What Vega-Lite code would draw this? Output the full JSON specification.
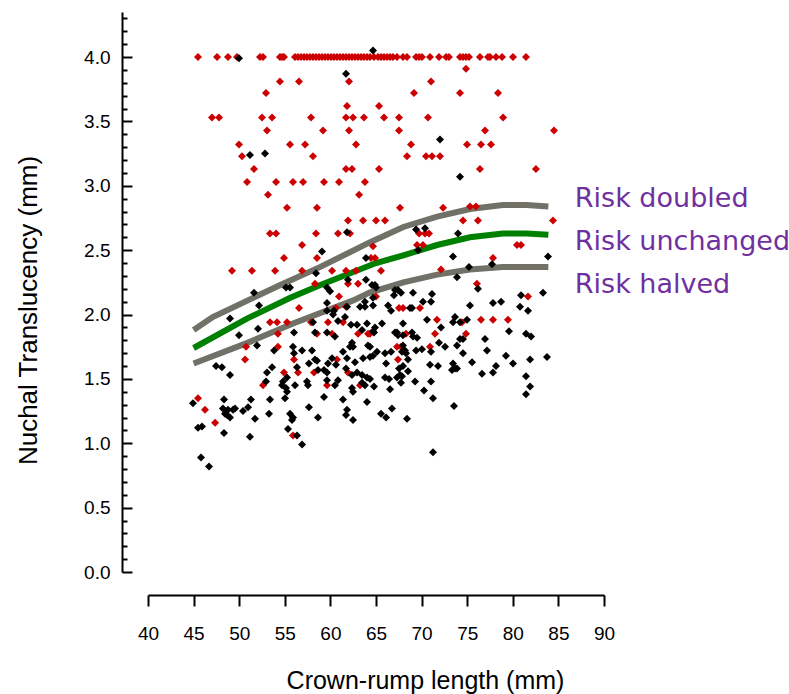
{
"$schema": "https://vega.github.io/schema/vega-lite/v6.json",
"width": 456, "height": 560,
"autosize": "none",
"padding": {"left": 148, "top": 12, "right": 185, "bottom": 122},
"background": "white",
"config": {"view": {"stroke": null},
  "axis": {"labelFont": "Liberation Sans", "titleFont": "Liberation Sans", "labelColor": "black", "titleColor": "black", "domainColor": "black", "tickColor": "black", "grid": false, "titleFontWeight": "normal", "domainWidth": 2, "tickWidth": 2, "labelFontSize": 19, "labelFlush": false}},
"datasets": {
 "curves": [
  {"curve":"doubled","x":45,"y":1.88},{"curve":"doubled","x":47.1,"y":1.98},{"curve":"doubled","x":54.5,"y":2.23},{"curve":"doubled","x":58.9,"y":2.37},{"curve":"doubled","x":64.3,"y":2.56},{"curve":"doubled","x":68,"y":2.68},{"curve":"doubled","x":71.7,"y":2.76},{"curve":"doubled","x":75.3,"y":2.82},{"curve":"doubled","x":78.9,"y":2.85},{"curve":"doubled","x":81.5,"y":2.85},{"curve":"doubled","x":83.9,"y":2.84},
  {"curve":"unchanged","x":45,"y":1.74},{"curve":"unchanged","x":50.9,"y":1.97},{"curve":"unchanged","x":55.6,"y":2.13},{"curve":"unchanged","x":58.9,"y":2.23},{"curve":"unchanged","x":65,"y":2.40},{"curve":"unchanged","x":68,"y":2.46},{"curve":"unchanged","x":71.7,"y":2.54},{"curve":"unchanged","x":75.3,"y":2.60},{"curve":"unchanged","x":78.9,"y":2.63},{"curve":"unchanged","x":81.5,"y":2.63},{"curve":"unchanged","x":83.9,"y":2.62},
  {"curve":"halved","x":45,"y":1.62},{"curve":"halved","x":50.9,"y":1.78},{"curve":"halved","x":55.9,"y":1.93},{"curve":"halved","x":62.5,"y":2.11},{"curve":"halved","x":64.3,"y":2.17},{"curve":"halved","x":68,"y":2.25},{"curve":"halved","x":71.7,"y":2.31},{"curve":"halved","x":75.3,"y":2.35},{"curve":"halved","x":78.9,"y":2.37},{"curve":"halved","x":83.9,"y":2.37}
 ],
 "labels": [
  {"x":86.8,"y":2.835,"label":"Risk doubled"},
  {"x":86.8,"y":2.501,"label":"Risk unchanged"},
  {"x":86.8,"y":2.167,"label":"Risk halved"}
 ],
 "points": [
  {"x":45.48,"y":4.0,"g":"red"},{"x":47.57,"y":4.0,"g":"red"},{"x":48.77,"y":4.0,"g":"red"},{"x":49.76,"y":4.0,"g":"red"},{"x":52.28,"y":4.0,"g":"red"},{"x":52.61,"y":4.0,"g":"red"},{"x":54.47,"y":4.0,"g":"red"},{"x":54.69,"y":4.0,"g":"red"},{"x":54.91,"y":4.0,"g":"red"},{"x":56.12,"y":4.0,"g":"red"},{"x":56.45,"y":4.0,"g":"red"},{"x":56.78,"y":4.0,"g":"red"},{"x":57.11,"y":4.0,"g":"red"},{"x":57.43,"y":4.0,"g":"red"},{"x":57.76,"y":4.0,"g":"red"},{"x":58.09,"y":4.0,"g":"red"},{"x":58.42,"y":4.0,"g":"red"},{"x":58.75,"y":4.0,"g":"red"},{"x":59.08,"y":4.0,"g":"red"},{"x":59.41,"y":4.0,"g":"red"},{"x":59.74,"y":4.0,"g":"red"},{"x":60.07,"y":4.0,"g":"red"},{"x":60.39,"y":4.0,"g":"red"},{"x":60.72,"y":4.0,"g":"red"},{"x":61.05,"y":4.0,"g":"red"},{"x":61.38,"y":4.0,"g":"red"},{"x":61.71,"y":4.0,"g":"red"},{"x":62.04,"y":4.0,"g":"red"},{"x":62.37,"y":4.0,"g":"red"},{"x":62.70,"y":4.0,"g":"red"},{"x":63.03,"y":4.0,"g":"red"},{"x":63.36,"y":4.0,"g":"red"},{"x":63.68,"y":4.0,"g":"red"},{"x":64.01,"y":4.0,"g":"red"},{"x":64.34,"y":4.0,"g":"red"},{"x":64.78,"y":4.0,"g":"red"},{"x":65.22,"y":4.0,"g":"red"},{"x":65.55,"y":4.0,"g":"red"},{"x":65.88,"y":4.0,"g":"red"},{"x":66.21,"y":4.0,"g":"red"},{"x":66.54,"y":4.0,"g":"red"},{"x":66.86,"y":4.0,"g":"red"},{"x":67.30,"y":4.0,"g":"red"},{"x":67.96,"y":4.0,"g":"red"},{"x":68.40,"y":4.0,"g":"red"},{"x":69.39,"y":4.0,"g":"red"},{"x":69.72,"y":4.0,"g":"red"},{"x":70.04,"y":4.0,"g":"red"},{"x":70.92,"y":4.0,"g":"red"},{"x":71.91,"y":4.0,"g":"red"},{"x":72.68,"y":4.0,"g":"red"},{"x":73.00,"y":4.0,"g":"red"},{"x":74.21,"y":4.0,"g":"red"},{"x":74.54,"y":4.0,"g":"red"},{"x":74.87,"y":4.0,"g":"red"},{"x":75.20,"y":4.0,"g":"red"},{"x":76.40,"y":4.0,"g":"red"},{"x":77.28,"y":4.0,"g":"red"},{"x":77.50,"y":4.0,"g":"red"},{"x":78.16,"y":4.0,"g":"red"},{"x":78.82,"y":4.0,"g":"red"},{"x":80.02,"y":4.0,"g":"red"},{"x":81.45,"y":4.0,"g":"red"},
  {"x":62.04,"y":3.81,"g":"red"},{"x":54.47,"y":3.81,"g":"red"},{"x":56.56,"y":3.81,"g":"red"},{"x":52.94,"y":3.72,"g":"red"},{"x":61.82,"y":3.62,"g":"red"},{"x":65.33,"y":3.62,"g":"red"},{"x":47.02,"y":3.53,"g":"red"},{"x":47.79,"y":3.53,"g":"red"},{"x":52.50,"y":3.53,"g":"red"},{"x":53.60,"y":3.53,"g":"red"},{"x":57.87,"y":3.53,"g":"red"},{"x":61.71,"y":3.53,"g":"red"},{"x":62.48,"y":3.53,"g":"red"},{"x":63.68,"y":3.53,"g":"red"},{"x":53.05,"y":3.43,"g":"red"},{"x":59.19,"y":3.43,"g":"red"},{"x":62.04,"y":3.43,"g":"red"},{"x":49.98,"y":3.32,"g":"red"},{"x":55.57,"y":3.32,"g":"red"},{"x":57.22,"y":3.32,"g":"red"},{"x":62.81,"y":3.32,"g":"red"},{"x":50.31,"y":3.23,"g":"red"},{"x":58.09,"y":3.23,"g":"red"},{"x":51.62,"y":3.13,"g":"red"},{"x":61.71,"y":3.13,"g":"red"},{"x":62.37,"y":3.13,"g":"red"},{"x":65.33,"y":3.13,"g":"red"},{"x":50.86,"y":3.03,"g":"red"},{"x":54.04,"y":3.03,"g":"red"},{"x":55.90,"y":3.03,"g":"red"},{"x":57.00,"y":3.03,"g":"red"},{"x":59.30,"y":3.03,"g":"red"},{"x":60.94,"y":3.03,"g":"red"},{"x":63.79,"y":3.03,"g":"red"},
  {"x":74.87,"y":3.91,"g":"red"},{"x":71.03,"y":3.81,"g":"red"},{"x":69.17,"y":3.72,"g":"red"},{"x":74.21,"y":3.72,"g":"red"},{"x":78.38,"y":3.72,"g":"red"},{"x":65.88,"y":3.53,"g":"red"},{"x":67.52,"y":3.53,"g":"red"},{"x":70.70,"y":3.53,"g":"red"},{"x":78.93,"y":3.53,"g":"red"},{"x":67.52,"y":3.43,"g":"red"},{"x":76.95,"y":3.43,"g":"red"},{"x":84.52,"y":3.43,"g":"red"},{"x":68.84,"y":3.32,"g":"red"},{"x":74.98,"y":3.32,"g":"red"},{"x":76.51,"y":3.32,"g":"red"},{"x":77.61,"y":3.32,"g":"red"},{"x":68.40,"y":3.23,"g":"red"},{"x":70.48,"y":3.23,"g":"red"},{"x":71.14,"y":3.23,"g":"red"},{"x":72.02,"y":3.23,"g":"red"},{"x":76.40,"y":3.13,"g":"red"},{"x":82.54,"y":3.13,"g":"red"},
  {"x":67.63,"y":2.83,"g":"red"},{"x":72.35,"y":2.83,"g":"red"},{"x":75.31,"y":2.84,"g":"red"},{"x":75.96,"y":2.84,"g":"red"},{"x":65.00,"y":2.73,"g":"red"},{"x":65.99,"y":2.73,"g":"red"},{"x":74.54,"y":2.73,"g":"red"},{"x":76.18,"y":2.73,"g":"red"},{"x":84.41,"y":2.73,"g":"red"},{"x":69.72,"y":2.63,"g":"red"},{"x":70.37,"y":2.63,"g":"red"},{"x":70.81,"y":2.63,"g":"red"},{"x":69.50,"y":2.54,"g":"red"},{"x":70.15,"y":2.54,"g":"red"},{"x":64.67,"y":2.53,"g":"red"},{"x":80.46,"y":2.54,"g":"red"},{"x":80.90,"y":2.54,"g":"red"},{"x":64.45,"y":2.44,"g":"red"},{"x":64.89,"y":2.44,"g":"red"},{"x":77.83,"y":2.44,"g":"red"},{"x":65.55,"y":2.34,"g":"red"},{"x":72.13,"y":2.35,"g":"red"},{"x":76.07,"y":2.24,"g":"red"},{"x":65.00,"y":2.14,"g":"red"},{"x":81.67,"y":2.14,"g":"red"},{"x":67.52,"y":2.05,"g":"red"},{"x":67.96,"y":2.05,"g":"red"},{"x":69.82,"y":2.05,"g":"red"},{"x":71.69,"y":1.96,"g":"red"},{"x":76.51,"y":1.96,"g":"red"},{"x":77.83,"y":1.96,"g":"red"},{"x":79.47,"y":1.96,"g":"red"},{"x":74.43,"y":1.94,"g":"red"},{"x":64.34,"y":1.85,"g":"red"},{"x":68.29,"y":1.85,"g":"red"},{"x":71.47,"y":1.85,"g":"red"},{"x":74.87,"y":1.85,"g":"red"},{"x":67.30,"y":1.75,"g":"red"},{"x":67.74,"y":1.75,"g":"red"},{"x":70.92,"y":1.75,"g":"red"},{"x":67.41,"y":1.65,"g":"red"},
  {"x":53.16,"y":2.93,"g":"red"},{"x":63.14,"y":2.93,"g":"red"},{"x":55.24,"y":2.83,"g":"red"},{"x":58.53,"y":2.83,"g":"red"},{"x":61.93,"y":2.73,"g":"red"},{"x":63.58,"y":2.73,"g":"red"},{"x":53.38,"y":2.63,"g":"red"},{"x":54.04,"y":2.63,"g":"red"},{"x":58.42,"y":2.63,"g":"red"},{"x":60.83,"y":2.63,"g":"red"},{"x":62.15,"y":2.63,"g":"red"},{"x":56.89,"y":2.54,"g":"red"},{"x":54.91,"y":2.44,"g":"red"},{"x":58.53,"y":2.44,"g":"red"},{"x":49.21,"y":2.34,"g":"red"},{"x":51.40,"y":2.34,"g":"red"},{"x":53.93,"y":2.34,"g":"red"},{"x":56.89,"y":2.34,"g":"red"},{"x":60.18,"y":2.34,"g":"red"},{"x":61.71,"y":2.34,"g":"red"},{"x":62.81,"y":2.34,"g":"red"},{"x":58.31,"y":2.24,"g":"red"},{"x":61.93,"y":2.24,"g":"red"},{"x":63.03,"y":2.24,"g":"red"},{"x":60.94,"y":2.14,"g":"red"},{"x":60.61,"y":2.05,"g":"red"},{"x":61.71,"y":2.06,"g":"red"},{"x":56.56,"y":2.05,"g":"red"},
  {"x":53.38,"y":1.94,"g":"red"},{"x":54.15,"y":1.94,"g":"red"},{"x":55.24,"y":1.94,"g":"red"},{"x":57.87,"y":1.94,"g":"red"},{"x":59.74,"y":1.94,"g":"red"},{"x":61.38,"y":1.94,"g":"red"},{"x":54.25,"y":1.85,"g":"red"},{"x":58.53,"y":1.85,"g":"red"},{"x":60.18,"y":1.85,"g":"red"},{"x":63.03,"y":1.85,"g":"red"},{"x":64.12,"y":1.85,"g":"red"},{"x":50.75,"y":1.75,"g":"red"},{"x":54.25,"y":1.75,"g":"red"},{"x":50.64,"y":1.65,"g":"red"},{"x":56.01,"y":1.65,"g":"red"},{"x":60.72,"y":1.65,"g":"red"},{"x":54.91,"y":1.55,"g":"red"},{"x":56.45,"y":1.55,"g":"red"},{"x":58.20,"y":1.55,"g":"red"},{"x":61.93,"y":1.55,"g":"red"},{"x":52.61,"y":1.45,"g":"red"},{"x":59.63,"y":1.45,"g":"red"},{"x":63.25,"y":1.45,"g":"red"},{"x":45.48,"y":1.35,"g":"red"},{"x":46.25,"y":1.26,"g":"red"},{"x":47.35,"y":1.16,"g":"red"},{"x":55.90,"y":1.06,"g":"red"},
  {"x":49.98,"y":3.99,"g":"black"},{"x":64.67,"y":4.05,"g":"black"},{"x":61.71,"y":3.87,"g":"black"},{"x":51.18,"y":3.24,"g":"black"},{"x":52.83,"y":3.25,"g":"black"},{"x":72.02,"y":3.36,"g":"black"},{"x":74.21,"y":3.07,"g":"black"},
  {"x":69.39,"y":2.66,"g":"black"},{"x":70.37,"y":2.67,"g":"black"},{"x":73.99,"y":2.63,"g":"black"},{"x":69.61,"y":2.50,"g":"black"},{"x":73.44,"y":2.45,"g":"black"},{"x":83.86,"y":2.45,"g":"black"},{"x":75.20,"y":2.37,"g":"black"},{"x":77.72,"y":2.39,"g":"black"},{"x":73.88,"y":2.29,"g":"black"},{"x":64.89,"y":2.23,"g":"black"},{"x":76.18,"y":2.20,"g":"black"},{"x":67.08,"y":2.19,"g":"black"},{"x":67.41,"y":2.19,"g":"black"},{"x":67.74,"y":2.17,"g":"black"},{"x":66.97,"y":2.15,"g":"black"},{"x":69.06,"y":2.17,"g":"black"},{"x":71.14,"y":2.16,"g":"black"},{"x":71.03,"y":2.10,"g":"black"},{"x":70.15,"y":2.10,"g":"black"},{"x":64.67,"y":2.13,"g":"black"},{"x":80.90,"y":2.15,"g":"black"},{"x":83.31,"y":2.17,"g":"black"},{"x":78.71,"y":2.10,"g":"black"},{"x":77.83,"y":2.09,"g":"black"},{"x":75.31,"y":2.07,"g":"black"},{"x":80.79,"y":2.06,"g":"black"},{"x":81.67,"y":2.03,"g":"black"},{"x":66.32,"y":2.07,"g":"black"},{"x":66.65,"y":2.03,"g":"black"},{"x":68.73,"y":2.05,"g":"black"},{"x":68.95,"y":2.05,"g":"black"},{"x":70.59,"y":1.96,"g":"black"},{"x":73.66,"y":1.98,"g":"black"},{"x":74.98,"y":1.96,"g":"black"},
  {"x":65.66,"y":1.93,"g":"black"},{"x":67.96,"y":1.93,"g":"black"},{"x":67.30,"y":1.86,"g":"black"},{"x":67.08,"y":1.86,"g":"black"},{"x":67.41,"y":1.84,"g":"black"},{"x":67.96,"y":1.84,"g":"black"},{"x":64.89,"y":1.90,"g":"black"},{"x":64.67,"y":1.87,"g":"black"},{"x":64.78,"y":1.86,"g":"black"},{"x":68.95,"y":1.86,"g":"black"},{"x":69.06,"y":1.83,"g":"black"},{"x":69.50,"y":1.82,"g":"black"},{"x":72.13,"y":1.90,"g":"black"},{"x":73.44,"y":1.94,"g":"black"},{"x":74.21,"y":1.94,"g":"black"},{"x":79.58,"y":1.87,"g":"black"},{"x":81.45,"y":1.85,"g":"black"},{"x":82.00,"y":1.83,"g":"black"},{"x":71.91,"y":1.78,"g":"black"},{"x":72.57,"y":1.75,"g":"black"},{"x":73.88,"y":1.76,"g":"black"},{"x":74.21,"y":1.81,"g":"black"},{"x":74.54,"y":1.81,"g":"black"},{"x":76.95,"y":1.81,"g":"black"},{"x":77.17,"y":1.72,"g":"black"},{"x":74.54,"y":1.70,"g":"black"},{"x":64.34,"y":1.75,"g":"black"},{"x":65.11,"y":1.71,"g":"black"},{"x":64.67,"y":1.68,"g":"black"},{"x":64.34,"y":1.67,"g":"black"},{"x":65.99,"y":1.70,"g":"black"},{"x":66.65,"y":1.71,"g":"black"},{"x":67.96,"y":1.76,"g":"black"},{"x":68.18,"y":1.72,"g":"black"},{"x":67.85,"y":1.71,"g":"black"},{"x":68.29,"y":1.70,"g":"black"},{"x":69.39,"y":1.72,"g":"black"},{"x":70.04,"y":1.73,"g":"black"},{"x":71.03,"y":1.71,"g":"black"},{"x":68.51,"y":1.65,"g":"black"},{"x":66.10,"y":1.62,"g":"black"},{"x":75.53,"y":1.63,"g":"black"},{"x":79.25,"y":1.68,"g":"black"},{"x":81.89,"y":1.65,"g":"black"},{"x":83.75,"y":1.67,"g":"black"},{"x":80.02,"y":1.62,"g":"black"},{"x":70.92,"y":1.61,"g":"black"},{"x":71.80,"y":1.60,"g":"black"},{"x":67.96,"y":1.60,"g":"black"},{"x":67.52,"y":1.58,"g":"black"},{"x":68.51,"y":1.56,"g":"black"},{"x":67.63,"y":1.53,"g":"black"},{"x":67.30,"y":1.51,"g":"black"},{"x":67.85,"y":1.52,"g":"black"},{"x":73.44,"y":1.62,"g":"black"},{"x":73.66,"y":1.58,"g":"black"},{"x":73.33,"y":1.57,"g":"black"},{"x":73.88,"y":1.58,"g":"black"},{"x":78.16,"y":1.60,"g":"black"},{"x":77.83,"y":1.55,"g":"black"},{"x":76.62,"y":1.54,"g":"black"},{"x":81.45,"y":1.52,"g":"black"},{"x":81.89,"y":1.44,"g":"black"},{"x":81.45,"y":1.38,"g":"black"},{"x":64.34,"y":1.50,"g":"black"},{"x":64.78,"y":1.44,"g":"black"},{"x":65.99,"y":1.51,"g":"black"},{"x":66.43,"y":1.50,"g":"black"},{"x":66.54,"y":1.42,"g":"black"},{"x":67.74,"y":1.47,"g":"black"},{"x":69.28,"y":1.48,"g":"black"},{"x":71.03,"y":1.48,"g":"black"},{"x":70.26,"y":1.41,"g":"black"},{"x":71.25,"y":1.35,"g":"black"},{"x":73.55,"y":1.29,"g":"black"},{"x":66.75,"y":1.27,"g":"black"},{"x":65.55,"y":1.23,"g":"black"},{"x":66.10,"y":1.20,"g":"black"},{"x":68.40,"y":1.19,"g":"black"},{"x":71.25,"y":0.93,"g":"black"},
  {"x":61.82,"y":2.64,"g":"black"},{"x":59.08,"y":2.49,"g":"black"},{"x":63.90,"y":2.44,"g":"black"},{"x":58.42,"y":2.32,"g":"black"},{"x":61.93,"y":2.27,"g":"black"},{"x":63.90,"y":2.27,"g":"black"},{"x":64.56,"y":2.23,"g":"black"},{"x":65.00,"y":2.21,"g":"black"},{"x":55.13,"y":2.21,"g":"black"},{"x":55.57,"y":2.21,"g":"black"},{"x":59.63,"y":2.21,"g":"black"},{"x":59.96,"y":2.18,"g":"black"},{"x":51.62,"y":2.17,"g":"black"},{"x":52.17,"y":2.07,"g":"black"},{"x":59.63,"y":2.09,"g":"black"},{"x":59.63,"y":2.03,"g":"black"},{"x":60.29,"y":2.00,"g":"black"},{"x":61.82,"y":2.06,"g":"black"},{"x":63.25,"y":2.06,"g":"black"},{"x":63.79,"y":2.06,"g":"black"},{"x":63.79,"y":2.10,"g":"black"},{"x":48.99,"y":1.97,"g":"black"},
  {"x":60.39,"y":2.03,"g":"black"},{"x":60.83,"y":1.95,"g":"black"},{"x":61.60,"y":1.98,"g":"black"},{"x":64.67,"y":2.07,"g":"black"},{"x":52.06,"y":1.89,"g":"black"},{"x":58.09,"y":1.94,"g":"black"},{"x":62.26,"y":1.92,"g":"black"},{"x":62.92,"y":1.92,"g":"black"},{"x":63.47,"y":1.88,"g":"black"},{"x":64.01,"y":1.93,"g":"black"},{"x":49.98,"y":1.84,"g":"black"},{"x":56.01,"y":1.86,"g":"black"},{"x":58.31,"y":1.86,"g":"black"},{"x":59.63,"y":1.86,"g":"black"},{"x":60.50,"y":1.83,"g":"black"},{"x":62.37,"y":1.78,"g":"black"},{"x":62.15,"y":1.75,"g":"black"},{"x":62.48,"y":1.75,"g":"black"},{"x":64.12,"y":1.76,"g":"black"},{"x":51.95,"y":1.76,"g":"black"},{"x":53.82,"y":1.72,"g":"black"},{"x":55.90,"y":1.75,"g":"black"},{"x":56.89,"y":1.72,"g":"black"},{"x":56.01,"y":1.70,"g":"black"},{"x":57.98,"y":1.72,"g":"black"},{"x":61.38,"y":1.71,"g":"black"},{"x":58.31,"y":1.65,"g":"black"},{"x":58.53,"y":1.64,"g":"black"},{"x":57.65,"y":1.62,"g":"black"},{"x":59.74,"y":1.62,"g":"black"},{"x":60.18,"y":1.66,"g":"black"},{"x":61.82,"y":1.66,"g":"black"},{"x":62.70,"y":1.63,"g":"black"},{"x":63.58,"y":1.66,"g":"black"},{"x":47.46,"y":1.60,"g":"black"},{"x":48.11,"y":1.59,"g":"black"},{"x":48.99,"y":1.53,"g":"black"},{"x":53.60,"y":1.59,"g":"black"},{"x":53.05,"y":1.55,"g":"black"},{"x":56.34,"y":1.59,"g":"black"},{"x":58.64,"y":1.57,"g":"black"},{"x":59.30,"y":1.57,"g":"black"},{"x":59.63,"y":1.55,"g":"black"},{"x":60.61,"y":1.61,"g":"black"},{"x":61.71,"y":1.58,"g":"black"},{"x":62.37,"y":1.53,"g":"black"},{"x":62.92,"y":1.55,"g":"black"},{"x":63.47,"y":1.53,"g":"black"},{"x":64.01,"y":1.51,"g":"black"},{"x":63.47,"y":1.47,"g":"black"},{"x":63.79,"y":1.45,"g":"black"},{"x":55.24,"y":1.51,"g":"black"},{"x":54.80,"y":1.48,"g":"black"},{"x":54.69,"y":1.45,"g":"black"},{"x":55.13,"y":1.43,"g":"black"},{"x":55.24,"y":1.40,"g":"black"},{"x":56.12,"y":1.45,"g":"black"},{"x":57.43,"y":1.48,"g":"black"},{"x":57.54,"y":1.45,"g":"black"},{"x":59.63,"y":1.49,"g":"black"},{"x":60.50,"y":1.45,"g":"black"},{"x":60.83,"y":1.49,"g":"black"},{"x":62.37,"y":1.43,"g":"black"},{"x":62.48,"y":1.40,"g":"black"},{"x":52.94,"y":1.48,"g":"black"},{"x":55.02,"y":1.35,"g":"black"},{"x":53.38,"y":1.34,"g":"black"},{"x":51.29,"y":1.34,"g":"black"},{"x":48.33,"y":1.34,"g":"black"},{"x":44.93,"y":1.31,"g":"black"},{"x":59.30,"y":1.36,"g":"black"},{"x":61.38,"y":1.34,"g":"black"},{"x":64.01,"y":1.32,"g":"black"},{"x":48.22,"y":1.27,"g":"black"},{"x":48.77,"y":1.26,"g":"black"},{"x":49.32,"y":1.26,"g":"black"},{"x":48.66,"y":1.22,"g":"black"},{"x":48.99,"y":1.20,"g":"black"},{"x":48.44,"y":1.23,"g":"black"},{"x":49.54,"y":1.27,"g":"black"},{"x":50.42,"y":1.25,"g":"black"},{"x":50.97,"y":1.28,"g":"black"},{"x":53.27,"y":1.23,"g":"black"},{"x":51.73,"y":1.19,"g":"black"},{"x":55.57,"y":1.23,"g":"black"},{"x":55.90,"y":1.20,"g":"black"},{"x":55.79,"y":1.18,"g":"black"},{"x":57.65,"y":1.28,"g":"black"},{"x":61.82,"y":1.26,"g":"black"},{"x":61.71,"y":1.22,"g":"black"},{"x":62.48,"y":1.18,"g":"black"},{"x":58.64,"y":1.20,"g":"black"},{"x":45.48,"y":1.12,"g":"black"},{"x":45.92,"y":1.13,"g":"black"},{"x":48.33,"y":1.08,"g":"black"},{"x":51.18,"y":1.05,"g":"black"},{"x":55.35,"y":1.11,"g":"black"},{"x":56.34,"y":1.06,"g":"black"},{"x":56.89,"y":0.99,"g":"black"},{"x":45.81,"y":0.89,"g":"black"},{"x":46.69,"y":0.82,"g":"black"}
 ]
},
"encoding": {
  "x": {"field": "x", "type": "quantitative", "scale": {"domain": [40, 90], "nice": false, "zero": false},
    "axis": {"values": [40,45,50,55,60,65,70,75,80,85,90], "offset": 23, "tickSize": 11, "labelPadding": 18, "labelFontSize": 19, "labelFlush": false, "title": "Crown-rump length (mm)", "titleFontSize": 25, "titleX": 277, "titleY": 85, "titleAlign": "center", "titleBaseline": "middle"}}
},
"layer": [
  {"data": {"name": "curves"},
   "mark": {"type": "line", "strokeWidth": 6, "strokeCap": "butt"},
   "encoding": {
     "y": {"field": "y", "type": "quantitative", "scale": {"domain": [0, 4.35], "nice": false, "zero": false},
       "axis": {"orient": "left", "offset": 26, "values": [0.1,0.2,0.3,0.4,0.6,0.7,0.8,0.9,1.1,1.2,1.3,1.4,1.6,1.7,1.8,1.9,2.1,2.2,2.3,2.4,2.6,2.7,2.8,2.9,3.1,3.2,3.3,3.4,3.6,3.7,3.8,3.9,4.1,4.2,4.3], "labels": false, "domain": false, "tickSize": -5, "title": null}},
     "color": {"field": "curve", "type": "nominal", "scale": {"domain": ["doubled","unchanged","halved"], "range": ["#717168","#008000","#717168"]}, "legend": null}
   }},
  {"data": {"name": "points"},
   "mark": {"type": "point", "shape": "diamond", "filled": true, "size": 64, "opacity": 1},
   "encoding": {
     "y": {"field": "y", "type": "quantitative", "scale": {"domain": [0, 4.35], "nice": false, "zero": false},
       "axis": {"orient": "left", "offset": 26, "values": [0,0.5,1,1.5,2,2.5,3,3.5,4], "format": ".1f", "tickSize": -10, "labelPadding": 22, "labelFontSize": 19, "title": "Nuchal Translucency (mm)", "titleFontSize": 26, "titleAngle": -90, "titleX": -94, "titleY": 298, "titleAlign": "center", "titleBaseline": "middle"}},
     "color": {"field": "g", "type": "nominal", "scale": {"domain": ["red","black"], "range": ["#cc0000","#000000"]}, "legend": null}
   }},
  {"data": {"name": "labels"},
   "mark": {"type": "text", "align": "left", "baseline": "alphabetic", "font": "DejaVu Sans", "fontSize": 27, "color": "#7030a0"},
   "encoding": {
     "y": {"field": "y", "type": "quantitative", "scale": {"domain": [0, 4.35], "nice": false, "zero": false}, "axis": null},
     "text": {"field": "label"}
   }}
],
"resolve": {"scale": {"y": "independent", "color": "independent"}, "axis": {"y": "independent"}}
}
